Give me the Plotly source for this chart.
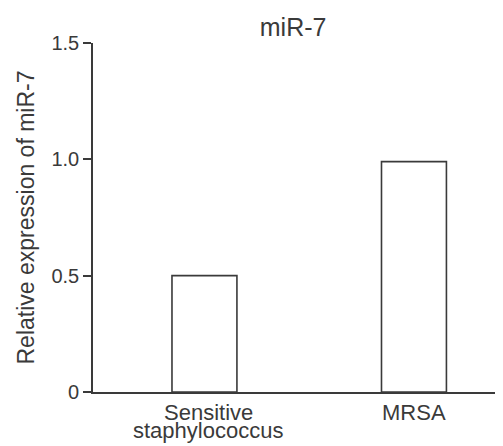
import plotly.graph_objects as go

categories = ["Sensitive<br>staphylococcus", "MRSA"]
values = [0.50, 0.99]
ytick_vals = [0, 0.5, 1.0, 1.5]
ytick_text = ["0", "0.5", "1.0", "1.5"]

ink = "#3a3a3a"
font_family = "Liberation Sans, Arial, sans-serif"

# page body has an 8px default margin; size the figure to fit the window
W, H = 495, 438

fig = go.Figure()
fig.add_trace(go.Bar(
    x=list(range(len(categories))), y=values, width=0.31,
    marker=dict(color="white", line=dict(color=ink, width=1.6)),
))

# category labels with tight line spacing
for i, lab in enumerate(categories):
    lines = lab.split("<br>")
    for j, line in enumerate(lines):
        fig.add_annotation(x=i, y=0, xref="x", yref="y", text=line,
                           showarrow=False, yanchor="top",
                           xshift=(4 if len(lines) > 1 else 0),
                           yshift=-6 - 18 * j,
                           font=dict(size=22, color=ink, family=font_family))

fig.update_layout(
    width=W, height=H,
    margin=dict(l=85, r=0, t=35, b=54),
    paper_bgcolor="white", plot_bgcolor="white",
    showlegend=False,
    font=dict(family=font_family, color=ink, size=20),
    title=dict(text="miR-7", x=0.576, xanchor="center", y=0.955, yanchor="middle",
               font=dict(size=25, color=ink)),
)
fig.update_xaxes(range=[-0.532, 1.425], showticklabels=False, ticks="",
                 showline=True, linecolor=ink, linewidth=1.6, showgrid=False,
                 zeroline=False)
fig.update_yaxes(range=[0, 1.5], tickvals=ytick_vals, ticktext=ytick_text,
                 ticks="outside", ticklen=8, tickwidth=1.6, tickcolor=ink,
                 showline=True, linecolor=ink, linewidth=1.6, showgrid=False,
                 zeroline=False, tickfont=dict(size=20, color=ink),
                 title=dict(text="Relative expression of miR-7", standoff=10,
                            font=dict(size=23, color=ink)))

fig.write_html("out.html")
